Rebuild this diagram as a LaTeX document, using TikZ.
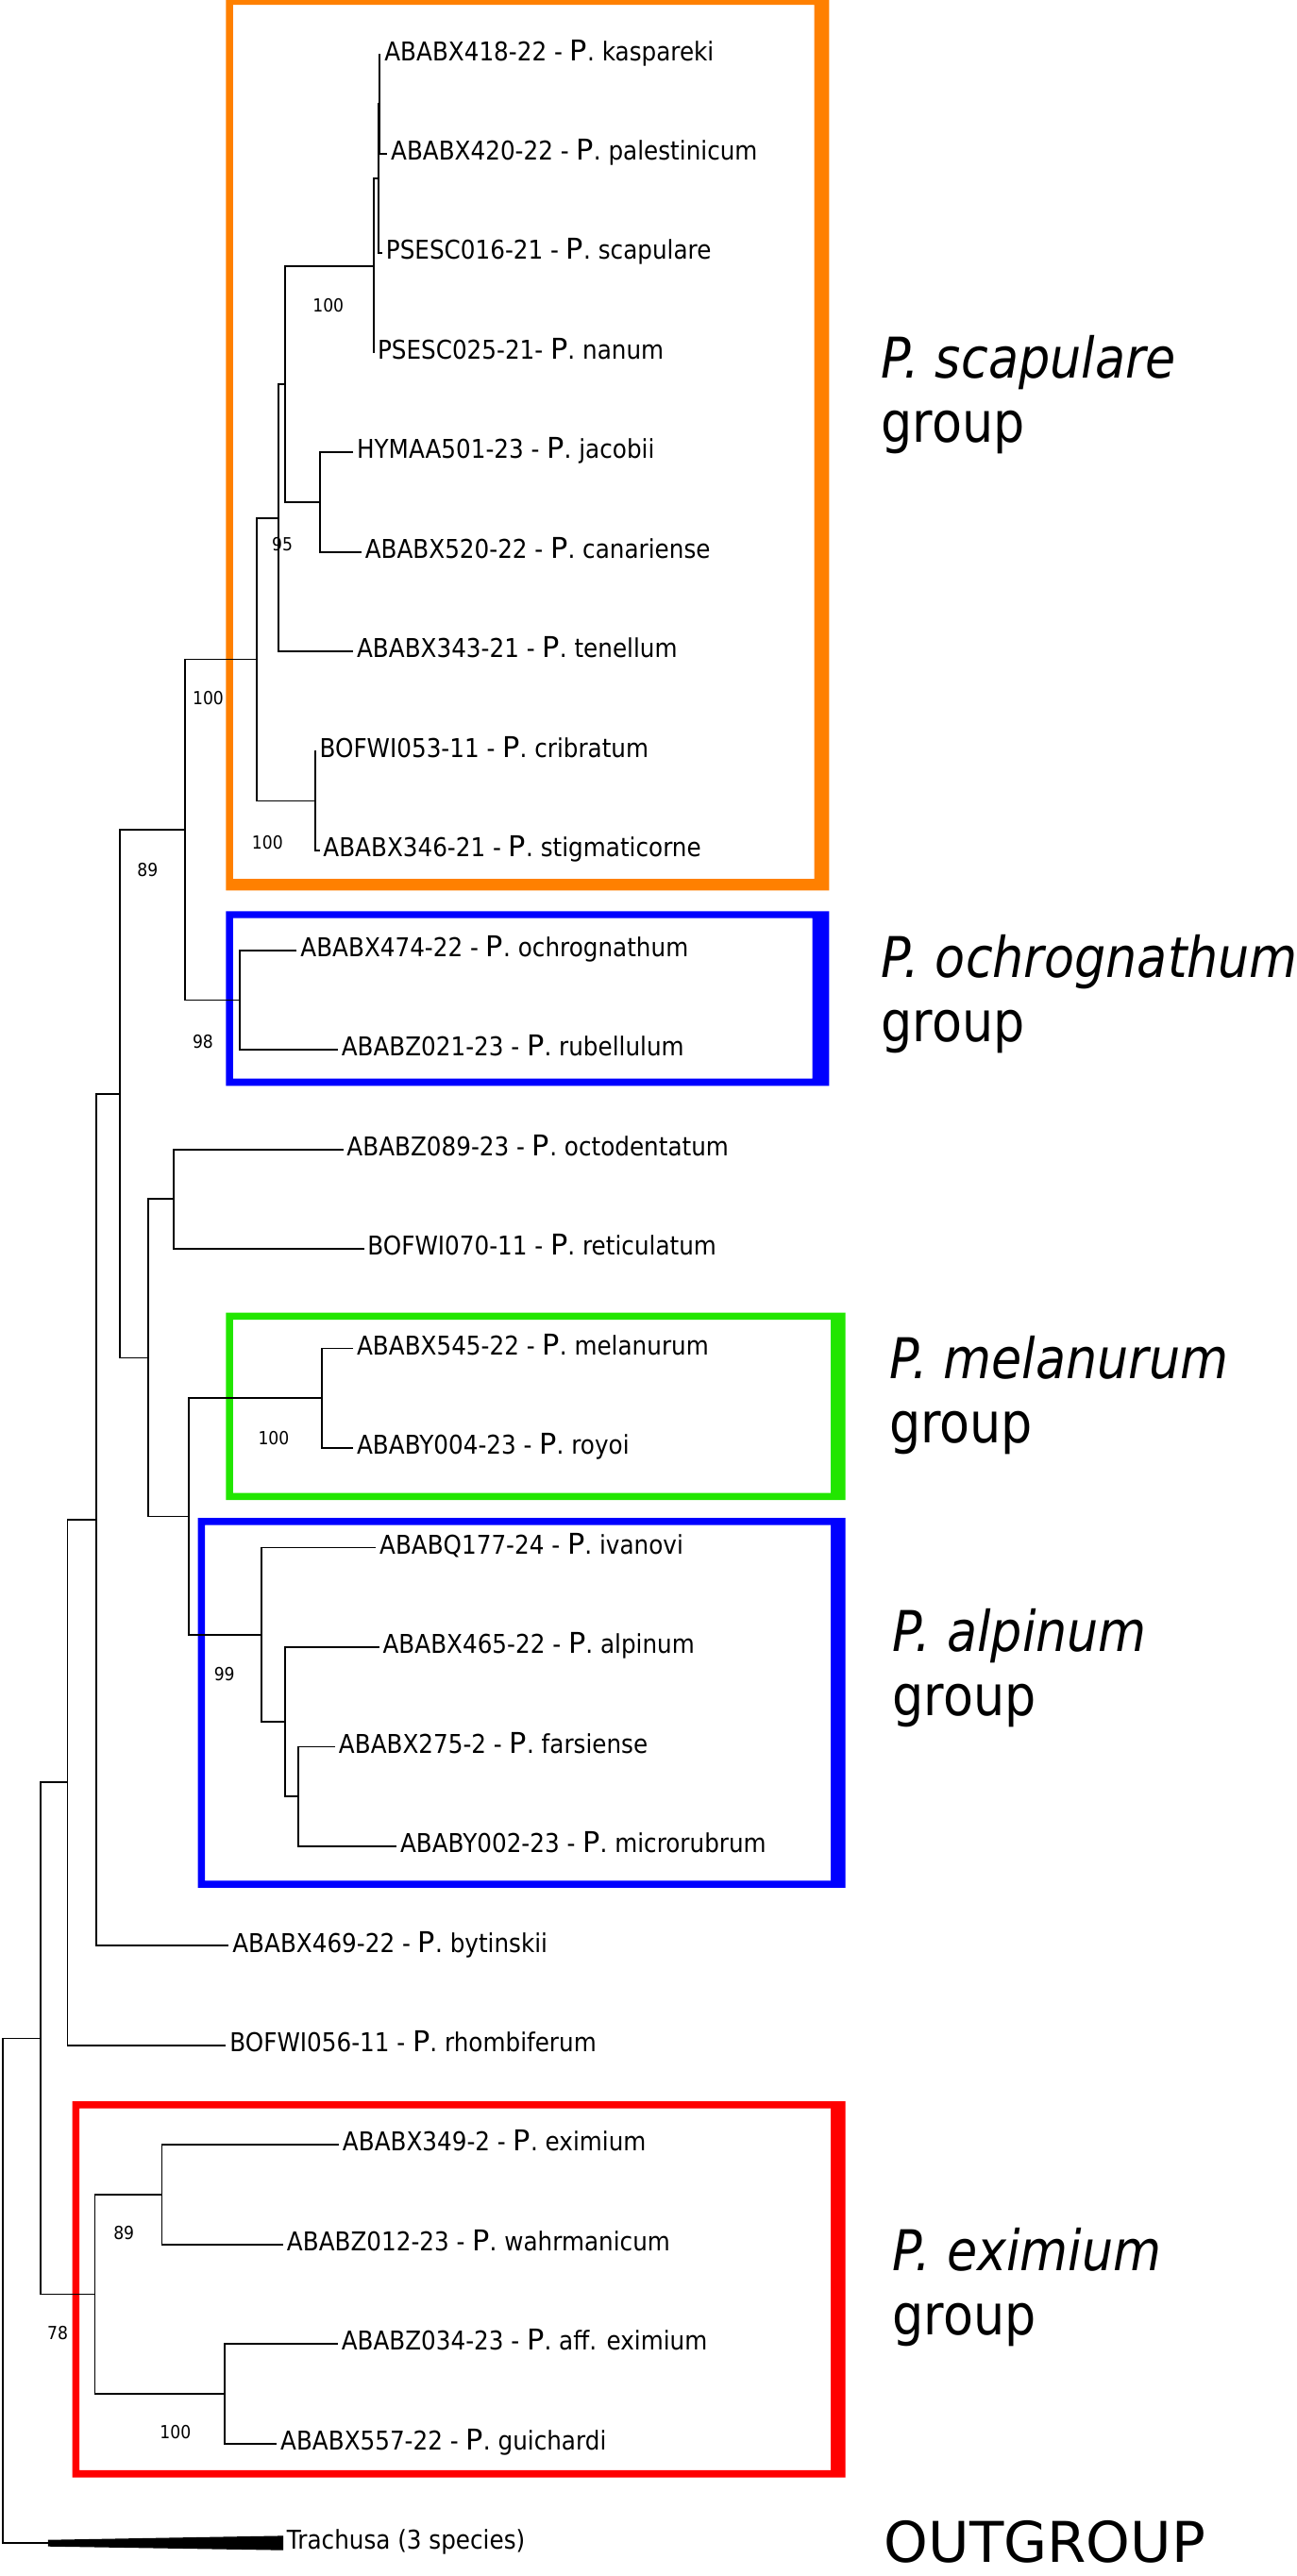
\documentclass[tikz,border=0pt]{standalone}
\usepackage{fontspec}
\setmainfont{DejaVu Sans}
\newfontfamily\taxfont{DejaVu Sans}[FakeStretch=0.9]
\newfontfamily\grpfont{DejaVu Sans}[FakeStretch=0.88]
\newfontfamily\pfont{DejaVu Sans}
\newcommand{\gP}{{\pfont\fontsize{12.4pt}{13pt}\selectfont P}}
\definecolor{grporange}{RGB}{255,128,0}
\definecolor{grpblue}{RGB}{0,0,255}
\definecolor{grpgreen}{RGB}{34,230,0}
\definecolor{grpred}{RGB}{255,0,0}

\begin{document}
\begin{tikzpicture}[x=0.025cm,y=-0.025cm,
  branch/.style={line width=0.75pt},
  taxon/.style={anchor=west,inner xsep=1.4pt,inner ysep=0pt,text height=5.4pt,text depth=0pt,font=\taxfont\fontsize{11.2pt}{13pt}\selectfont},
  boot/.style={inner sep=0pt,font=\taxfont\fontsize{7.8pt}{9pt}\selectfont},
  grp/.style={anchor=base west,inner sep=0pt,font=\grpfont\fontsize{24.3pt}{28pt}\selectfont}]
\useasboundingbox (0,0) rectangle (789,1568);
% group frames
\fill[grporange,even odd rule] (137.6,-1.4) rectangle (504.7,542) (141.9,2.9) rectangle (495.7,535);
\fill[grpblue,even odd rule] (137.6,554.6) rectangle (504.7,661) (141.9,558.9) rectangle (494.5,656.5);
\fill[grpgreen,even odd rule] (137.6,799) rectangle (514.6,913) (141.9,803.3) rectangle (505.7,908.7);
\fill[grpblue,even odd rule] (120.4,924) rectangle (514.6,1149) (124.7,928.3) rectangle (505.7,1144.7);
\fill[grpred,even odd rule] (44,1279) rectangle (514.6,1508) (48.3,1283.3) rectangle (505.7,1503.5);
% tips
\node[taxon] (kasp) at (231.8,33) {ABABX418-22 - \gP. kaspareki};
\node[taxon] (pale) at (235.7,93.6) {ABABX420-22 - \gP. palestinicum};
\node[taxon] (scap) at (232.7,154.2) {PSESC016-21 - \gP. scapulare};
\node[taxon] (nanu) at (227.6,214.8) {PSESC025-21- \gP. nanum};
\node[taxon] (jaco) at (215,275.4) {HYMAA501-23 - \gP. jacobii};
\node[taxon] (cana) at (220,336) {ABABX520-22 - \gP. canariense};
\node[taxon] (tene) at (215,396.6) {ABABX343-21 - \gP. tenellum};
\node[taxon] (crib) at (192.3,457.2) {BOFWI053-11 - \gP. cribratum};
\node[taxon] (stig) at (194.5,517.8) {ABABX346-21 - \gP. stigmaticorne};
\node[taxon] (ochr) at (180.7,578.4) {ABABX474-22 - \gP. ochrognathum};
\node[taxon] (rube) at (205.6,639) {ABABZ021-23 - \gP. rubellulum};
\node[taxon] (octo) at (208.9,699.6) {ABABZ089-23 - \gP. octodentatum};
\node[taxon] (reti) at (221.5,760.2) {BOFWI070-11 - \gP. reticulatum};
\node[taxon] (mela) at (215,820.8) {ABABX545-22 - \gP. melanurum};
\node[taxon] (royo) at (215,881.4) {ABABY004-23 - \gP. royoi};
\node[taxon] (ivan) at (228.8,942) {ABABQ177-24 - \gP. ivanovi};
\node[taxon] (alpi) at (230.8,1002.6) {ABABX465-22 - \gP. alpinum};
\node[taxon] (fars) at (204,1063.2) {ABABX275-2 - \gP. farsiense};
\node[taxon] (micr) at (241.4,1123.8) {ABABY002-23 - \gP. microrubrum};
\node[taxon] (byti) at (139.3,1184.4) {ABABX469-22 - \gP. bytinskii};
\node[taxon] (rhom) at (137.6,1245) {BOFWI056-11 - \gP. rhombiferum};
\node[taxon] (exim) at (206.3,1305.6) {ABABX349-2 - \gP. eximium};
\node[taxon] (wahr) at (172.4,1366.2) {ABABZ012-23 - \gP. wahrmanicum};
\node[taxon] (affe) at (205.6,1426.8) {ABABZ034-23 - \gP. aff. eximium};
\node[taxon] (guic) at (168.5,1487.4) {ABABX557-22 - \gP. guichardi};
\node[taxon] (trac) at (172.4,1548) {Trachusa (3 species)};
% inner nodes
\coordinate (n3) at (231.2,63.3);
\coordinate (n2) at (230.5,108.75);
\coordinate (n1) at (227.6,161.8);
\coordinate (jc) at (194.6,305.7);
\coordinate (n4) at (173.4,233.75);
\coordinate (n5) at (169.4,315.2);
\coordinate (cs) at (191.7,487.5);
\coordinate (n6) at (156.2,401.35);
\coordinate (oc) at (145.9,608.7);
\coordinate (n7) at (112.7,505);
\coordinate (orr) at (105.5,729.9);
\coordinate (mr) at (196,851.1);
\coordinate (n13) at (181.4,1093.5);
\coordinate (n12) at (173.4,1048.05);
\coordinate (n11) at (159.2,995);
\coordinate (n10) at (115,923.05);
\coordinate (n9) at (90.2,826.5);
\coordinate (n8) at (73,665.75);
\coordinate (n14) at (58.4,925.1);
\coordinate (n15) at (41.1,1085);
\coordinate (n18) at (98.5,1335.9);
\coordinate (n19) at (136.6,1457.1);
\coordinate (n17) at (57.7,1396.5);
\coordinate (n16) at (24.5,1240.75);
\coordinate (root) at (1.7,1394.4);
\coordinate (trc) at (29.2,1548);
% branches
\draw[branch] (kasp.west) -| (n3) |- (pale.west);
\draw[branch] (n3) -| (n2) |- (scap.west);
\draw[branch] (n2) -| (n1) |- (nanu.west);
\draw[branch] (jaco.west) -| (jc) |- (cana.west);
\draw[branch] (n1) -| (n4) |- (jc);
\draw[branch] (n4) -| (n5) |- (tene.west);
\draw[branch] (crib.west) -| (cs) |- (stig.west);
\draw[branch] (n5) -| (n6) |- (cs);
\draw[branch] (ochr.west) -| (oc) |- (rube.west);
\draw[branch] (n6) -| (n7) |- (oc);
\draw[branch] (octo.west) -| (orr) |- (reti.west);
\draw[branch] (mela.west) -| (mr) |- (royo.west);
\draw[branch] (fars.west) -| (n13) |- (micr.west);
\draw[branch] (alpi.west) -| (n12) |- (n13);
\draw[branch] (ivan.west) -| (n11) |- (n12);
\draw[branch] (mr) -| (n10) |- (n11);
\draw[branch] (orr) -| (n9) |- (n10);
\draw[branch] (n7) -| (n8) |- (n9);
\draw[branch] (n8) -| (n14) |- (byti.west);
\draw[branch] (n14) -| (n15) |- (rhom.west);
\draw[branch] (exim.west) -| (n18) |- (wahr.west);
\draw[branch] (affe.west) -| (n19) |- (guic.west);
\draw[branch] (n18) -| (n17) |- (n19);
\draw[branch] (n15) -| (n16) |- (n17);
\draw[branch] (n16) -| (root) |- (trc);
\fill (29.2,1546) -- (172.4,1543.5) -- (172.4,1552.3) -- (29.2,1550) -- cycle;
% support values
\node[boot] (b1) at (199.8,186) {100};
\node[boot] (b2) at (171.8,331) {95};
\node[boot] (b3) at (126.7,424.8) {100};
\node[boot] (b4) at (162.8,512.9) {100};
\node[boot] (b5) at (89.8,529.3) {89};
\node[boot] (b6) at (123.5,633.8) {98};
\node[boot] (b7) at (166.6,875.2) {100};
\node[boot] (b8) at (136.6,1019) {99};
\node[boot] (b9) at (75.4,1359.2) {89};
\node[boot] (b10) at (35.1,1420.2) {78};
\node[boot] (b11) at (106.8,1480.5) {100};
% group names
\node[grp] (gscap) at (536,229.9) {\textit{P. scapulare}};
\node[grp] (gscap2) at ([yshift=-27.9pt]gscap.base west) {group};
\node[grp] (gochr) at (536,595) {\textit{P. ochrognathum}};
\node[grp] (gochr2) at ([yshift=-27.9pt]gochr.base west) {group};
\node[grp] (gmela) at (541,839) {\textit{P. melanurum}};
\node[grp] (gmela2) at ([yshift=-27.9pt]gmela.base west) {group};
\node[grp] (galpi) at (543,1005) {\textit{P. alpinum}};
\node[grp] (galpi2) at ([yshift=-27.9pt]galpi.base west) {group};
\node[grp] (gexim) at (543,1382) {\textit{P. eximium}};
\node[grp] (gexim2) at ([yshift=-27.9pt]gexim.base west) {group};
\node[grp,font=\fontsize{24.3pt}{28pt}\selectfont] (gout) at (538,1559.4) {OUTGROUP};
\end{tikzpicture}
\end{document}
